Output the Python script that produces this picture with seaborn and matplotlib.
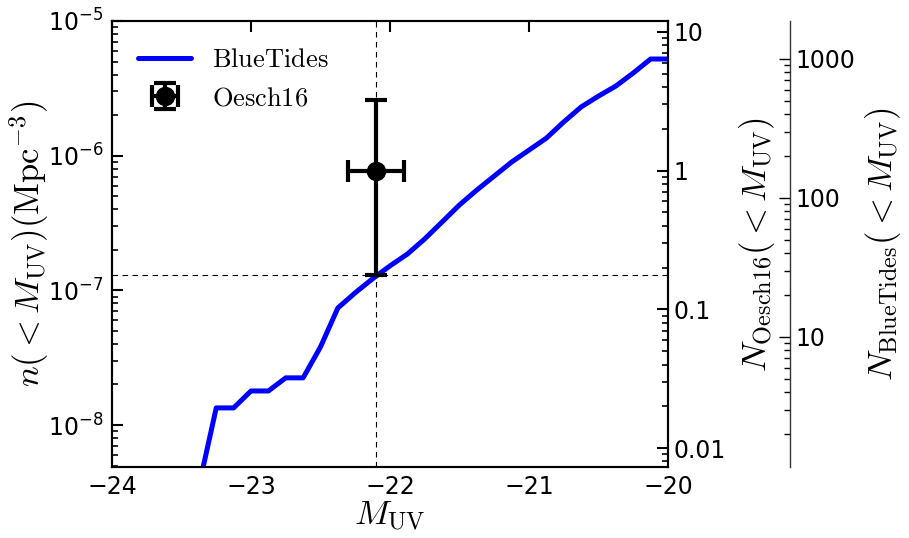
import numpy as np
import pandas as pd
import seaborn as sns
import matplotlib
matplotlib.use('Agg')
import matplotlib.pyplot as plt
from matplotlib.ticker import FixedLocator, NullFormatter, LogLocator

# BlueTides cumulative number density n(<M_UV)
bt_muv = [-23.375, -23.25, -23.125, -23.0, -22.875, -22.75, -22.625, -22.5,
          -22.375, -22.25, -22.125, -22.0, -21.875, -21.75, -21.625, -21.5,
          -21.375, -21.25, -21.125, -21.0, -20.875, -20.75, -20.625, -20.5,
          -20.375, -20.25, -20.125, -20.0]
bt_n = [3.5e-9, 1.34e-8, 1.34e-8, 1.79e-8, 1.79e-8, 2.24e-8, 2.24e-8, 3.8e-8,
        7.4e-8, 9.6e-8, 1.22e-7, 1.52e-7, 1.86e-7, 2.41e-7, 3.22e-7, 4.31e-7,
        5.56e-7, 7.06e-7, 8.97e-7, 1.10e-6, 1.35e-6, 1.78e-6, 2.30e-6, 2.77e-6,
        3.29e-6, 4.11e-6, 5.22e-6, 5.22e-6]

# Oesch16 point (GN-z11)
oe_muv = -22.1
oe_muv_err = 0.2
oe_n = 7.7e-7
oe_n_lo = 1.3e-7
oe_n_hi = 2.6e-6

oesch_ticks = [0.01, 0.1, 1, 10]
oesch_labels = ['0.01', '0.1', '1', '10']
bt_ticks = [10, 100, 1000]
bt_labels = ['10', '100', '1000']

sns.set_style('white')
plt.rcParams['font.family'] = ['DejaVu Sans']
plt.rcParams['mathtext.fontset'] = 'cm'
plt.rcParams['axes.linewidth'] = 1.5
plt.rcParams['axes.edgecolor'] = 'black'
plt.rcParams['axes.labelcolor'] = 'black'
plt.rcParams['text.color'] = 'black'
plt.rcParams['xtick.color'] = 'black'
plt.rcParams['ytick.color'] = 'black'

df = pd.DataFrame({'muv': bt_muv, 'n': bt_n})

fig = plt.figure(figsize=(9.09, 5.38), dpi=100)
ax = fig.add_axes([0.1232, 0.132, 0.6117, 0.829])

sns.lineplot(data=df, x='muv', y='n', ax=ax, color='#0000ff', lw=3.6,
             sort=False, label=r'$\mathrm{BlueTides}$')
ax.errorbar([oe_muv], [oe_n], xerr=[oe_muv_err],
            yerr=[[oe_n - oe_n_lo], [oe_n_hi - oe_n]],
            fmt='o', color='k', ms=13, lw=3, capsize=8, capthick=3,
            label=r'$\mathrm{Oesch16}$')
ax.axvline(oe_muv, color='k', ls='--', lw=0.8, dashes=(5, 4))
ax.axhline(oe_n_lo, color='k', ls='--', lw=0.8, dashes=(5, 4))

ax.set_yscale('log')
ax.set_xlim(-24, -20)
ax.set_ylim(4.88e-9, 1e-5)
ax.xaxis.set_major_locator(FixedLocator([-24, -23, -22, -21, -20]))
ax.yaxis.set_minor_locator(LogLocator(base=10, subs=np.arange(2, 10)))
ax.yaxis.set_minor_formatter(NullFormatter())
ax.tick_params(axis='both', which='major', direction='in', length=8, width=1.5,
               labelsize=17, top=True, right=False, pad=6)
ax.tick_params(axis='y', which='minor', direction='in', length=4, width=1.2,
               right=False, left=True)
ax.set_xlabel(r'$M_{\rm UV}$', fontsize=25, labelpad=0)
ax.set_ylabel(r'$n(<M_{\rm UV})(\mathrm{Mpc}^{-3})$', fontsize=25)
ax.yaxis.set_label_coords(-0.11, 0.5)

leg = ax.legend(loc='upper left', frameon=False, fontsize=19,
                bbox_to_anchor=(0.0, 1.0), borderaxespad=0.6, labelspacing=0.45,
                handletextpad=0.8)

# twin axis: Oesch16 counts
ax2 = ax.twinx()
ax2.set_yscale('log')
ax2.set_ylim(0.0073, 12.0)
ax2.yaxis.set_major_locator(FixedLocator(oesch_ticks))
ax2.set_yticklabels(oesch_labels)
ax2.yaxis.set_minor_locator(LogLocator(base=10, subs=np.arange(2, 10)))
ax2.yaxis.set_minor_formatter(NullFormatter())
ax2.tick_params(axis='y', which='major', direction='in', length=8, width=1.5,
                labelsize=17, pad=4)
ax2.tick_params(axis='y', which='minor', direction='in', length=4, width=1.2)
ax2.set_ylabel(r'$N_{\rm Oesch16}(<M_{\rm UV})$', fontsize=25)
ax2.yaxis.set_label_coords(1.124, 0.5)

# third axis: BlueTides counts
ax3 = ax.twinx()
ax3.spines['right'].set_position(('axes', 1.22))
for s in ['top', 'bottom', 'left']:
    ax3.spines[s].set_visible(False)
ax3.spines['right'].set_linewidth(1.0)
ax3.spines['right'].set_color('#333333')
ax3.set_yscale('log')
ax3.set_ylim(1.16, 1875)
ax3.yaxis.set_major_locator(FixedLocator(bt_ticks))
ax3.set_yticklabels(bt_labels)
ax3.yaxis.set_minor_locator(LogLocator(base=10, subs=np.arange(2, 10)))
ax3.yaxis.set_minor_formatter(NullFormatter())
ax3.tick_params(axis='y', which='major', direction='in', length=8, width=1.0,
                labelsize=17, pad=4)
ax3.tick_params(axis='y', which='minor', direction='in', length=4, width=1.0)
ax3.set_ylabel(r'$N_{\rm BlueTides}(<M_{\rm UV})$', fontsize=25)
ax3.yaxis.set_label_coords(1.351, 0.5)

fig.savefig('out.png', dpi=100)
